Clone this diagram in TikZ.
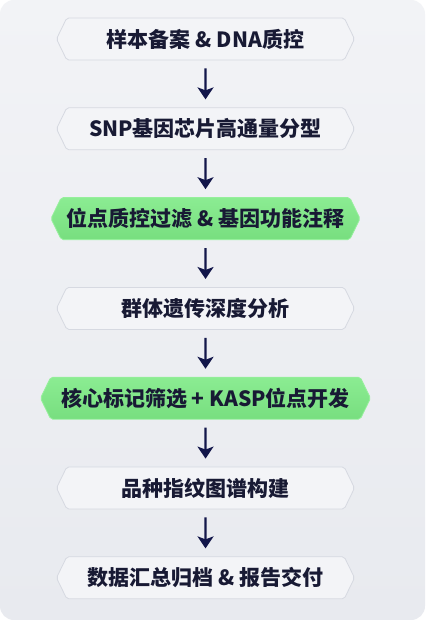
\documentclass[tikz,border=0pt]{standalone}
\usepackage{fontspec}
\newfontfamily\cjk{Noto Sans CJK SC}
\usepackage{xcolor}
\usetikzlibrary{shapes.symbols,arrows.meta,positioning}
\definecolor{bgtop}{RGB}{242,243,246}
\definecolor{bgbot}{RGB}{232,234,239}
\definecolor{boxfill}{RGB}{243,244,247}
\definecolor{boxline}{RGB}{214,217,225}
\definecolor{keyfill}{RGB}{126,234,134}
\definecolor{keyline}{RGB}{150,239,156}
\definecolor{ink}{RGB}{24,26,52}
\definecolor{arrowc}{RGB}{18,22,74}

\begin{document}
\begin{tikzpicture}[
  x=1pt,y=1pt,
  node distance=47pt,
  stage/.style={signal,signal to=west and east,signal pointer angle=128,draw=boxline,fill=boxfill,line width=0.8pt,rounded corners=2pt,minimum width=298pt,minimum height=42pt,inner xsep=4pt,text=ink,font=\cjk\bfseries\fontsize{21}{24}\selectfont},
  key/.style={stage,draw=keyline,top color=keyfill!90!white,bottom color=keyfill!95!black},
  arr/.style={-{Stealth[length=12pt,width=16pt,inset=3pt]},line width=2.2pt,draw=arrowc,shorten <=8pt,shorten >=8pt}
]
  \fill[white] (0,0) rectangle (425,-620);
  \useasboundingbox (0,0) rectangle (425,-620);
  \shade[top color=bgtop,bottom color=bgbot,rounded corners=14pt] (0,0) rectangle (425,-620);
  \node[stage] (s1) at (205.5,-39) {样本备案 \& DNA质控};
  \node[stage,below=of s1] (s2) {SNP基因芯片高通量分型};
  \node[key,minimum width=309pt,below=of s2] (s3) {位点质控过滤 \& 基因功能注释};
  \node[stage,below=of s3] (s4) {群体遗传深度分析};
  \node[key,minimum width=330pt,below=of s4] (s5) {核心标记筛选 + KASP位点开发};
  \node[stage,below=of s5] (s6) {品种指纹图谱构建};
  \node[stage,below=of s6] (s7) {数据汇总归档 \& 报告交付};
  \draw[arr] (s1) -- (s2);
  \draw[arr] (s2) -- (s3);
  \draw[arr] (s3) -- (s4);
  \draw[arr] (s4) -- (s5);
  \draw[arr] (s5) -- (s6);
  \draw[arr] (s6) -- (s7);
\end{tikzpicture}
\end{document}
